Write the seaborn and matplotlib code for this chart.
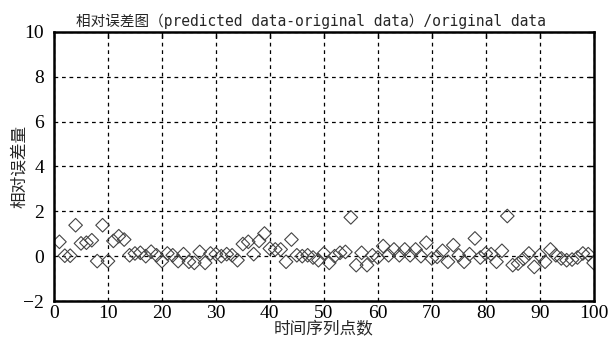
import numpy as np
import pandas as pd
import matplotlib
matplotlib.use("Agg")
import matplotlib.pyplot as plt
import seaborn as sns

# 相对误差数据
points = list(range(1, 101))
rel_err = [
    0.64, 0.02, 0.02, 1.38, 0.57, 0.60, 0.71, -0.22, 1.38, -0.22,
    0.68, 0.89, 0.74, 0.04, 0.12, 0.15, 0.00, 0.20, 0.04, -0.22,
    0.12, 0.04, -0.22, 0.09, -0.25, -0.30, 0.19, -0.30, 0.12, 0.09,
    0.00, 0.09, 0.04, -0.18, 0.54, 0.64, 0.09, 0.68, 1.01, 0.34,
    0.30, 0.30, -0.25, 0.74, 0.04, 0.00, 0.04, -0.06, -0.18, 0.12,
    -0.30, 0.00, 0.15, 0.19, 1.73, -0.40, 0.15, -0.40, 0.04, -0.06,
    0.45, 0.04, 0.30, 0.04, 0.30, 0.04, 0.30, 0.00, 0.60, -0.10,
    -0.03, 0.24, -0.25, 0.49, 0.04, -0.25, 0.09, 0.79, -0.06, 0.12,
    0.09, -0.25, 0.24, 1.79, -0.40, -0.33, -0.12, 0.12, -0.48, 0.04,
    -0.25, 0.30, 0.04, -0.10, -0.18, -0.15, -0.06, 0.12, 0.09, -0.30,
]
x_ticks = [0, 10, 20, 30, 40, 50, 60, 70, 80, 90, 100]
y_ticks = [-2, 0, 2, 4, 6, 8, 10]

df = pd.DataFrame({"point": points, "err": rel_err})

sns.set_style("white")
plt.rcParams["font.family"] = ["Liberation Serif", "Noto Sans CJK SC"]

fig = plt.figure(figsize=(6.16, 3.39), dpi=100)
ax = fig.add_axes([0.0877, 0.112, 0.876, 0.794])

sns.scatterplot(data=df, x="point", y="err", marker="D", s=48,
                facecolor="none", edgecolor="#444444", linewidth=0.8, ax=ax)

ax.set_xlim(0, 100)
ax.set_ylim(-2, 10)
ax.set_xticks(x_ticks)
ax.set_yticks(y_ticks)
ax.set_xticklabels([str(t) for t in x_ticks])
ax.set_yticklabels([str(t).replace("-", "\u2212") for t in y_ticks])
ax.tick_params(direction="in", length=4, width=1, labelsize=14, colors="black",
               top=True, right=True)
ax.tick_params(axis="y", pad=7)
ax.tick_params(axis="x", pad=3)
ax.grid(True, color="black", linestyle=(0, (3, 3)), linewidth=0.9)
for s in ax.spines.values():
    s.set_linewidth(1.8)
    s.set_color("black")

ax.set_title("相对误差图（predicted data-original data）/original data",
             family=["DejaVu Sans Mono", "Noto Sans CJK SC"], fontsize=10.5, pad=4,
             x=0.477)
ax.set_xlabel("时间序列点数", family=["Noto Sans CJK SC"], fontsize=12, labelpad=-1)
ax.set_ylabel("相对误差量", family=["Noto Sans CJK SC"], fontsize=12, labelpad=-3)

fig.savefig("out.png", dpi=100)
